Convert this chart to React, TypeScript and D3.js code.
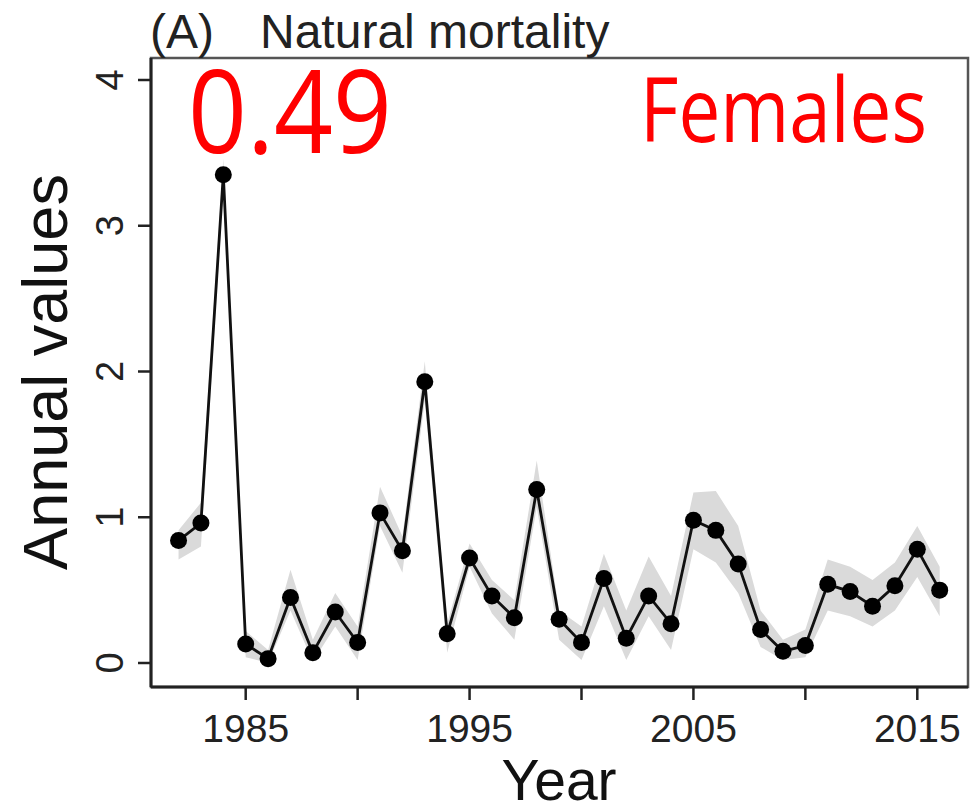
import { scaleLinear, line as d3Line, area as d3Area } from 'd3';

// annual estimates of natural mortality (females)
const years = [
  1982, 1983, 1984, 1985, 1986, 1987, 1988, 1989, 1990, 1991, 1992, 1993, 1994, 1995, 1996, 1997, 1998,
  1999, 2000, 2001, 2002, 2003, 2004, 2005, 2006, 2007, 2008, 2009, 2010, 2011, 2012, 2013, 2014, 2015, 2016,
];
const values = [
  0.84, 0.96, 3.35, 0.13, 0.03, 0.45, 0.07, 0.35, 0.14, 1.03, 0.77, 1.93, 0.2, 0.72, 0.46, 0.31, 1.19,
  0.3, 0.14, 0.58, 0.17, 0.46, 0.27, 0.98, 0.91, 0.68, 0.23, 0.08, 0.12, 0.54, 0.49, 0.39, 0.53, 0.78, 0.5,
];
const upper = [
  0.91, 1.1, 3.46, 0.22, 0.09, 0.64, 0.16, 0.48, 0.25, 1.21, 0.87, 2.07, 0.27, 0.82, 0.57, 0.43, 1.39,
  0.36, 0.25, 0.75, 0.36, 0.73, 0.46, 1.17, 1.18, 0.94, 0.36, 0.16, 0.23, 0.71, 0.66, 0.57, 0.69, 0.94, 0.66,
];
const lower = [
  0.71, 0.8, 3.25, 0.04, 0.0, 0.36, 0.01, 0.25, 0.02, 0.94, 0.62, 1.8, 0.07, 0.66, 0.34, 0.16, 1.07,
  0.16, 0.02, 0.39, 0.02, 0.32, 0.09, 0.78, 0.69, 0.48, 0.11, 0.02, 0.04, 0.36, 0.32, 0.25, 0.36, 0.59, 0.32,
];
const xTicks = [1985, 1990, 1995, 2000, 2005, 2010, 2015];
const xTickLabels = ['1985', '', '1995', '', '2005', '', '2015'];
const yTicks = [0, 1, 2, 3, 4];

const W = 970;
const H = 809;
const BOX = { left: 151, right: 968, top: 58, bottom: 687 };
const AXIS_FONT = '"Liberation Sans", Arial, sans-serif';
const RED_FONT = '"Open Sans", "Noto Sans", sans-serif';

const App = () => {
  const x = scaleLinear().domain([1985, 2015]).range([245.7, 917.3]);
  const y = scaleLinear().domain([0, 4]).range([663, 80]);

  const idx = years.map((_, i) => i);
  const band = d3Area<number>()
    .x((i) => x(years[i]))
    .y0((i) => y(lower[i]))
    .y1((i) => y(upper[i]));
  const path = d3Line<number>()
    .x((i) => x(years[i]))
    .y((i) => y(values[i]));

  return (
    <div style={{ position: 'absolute', left: 0, top: 0 }}>
      <svg width={W} height={H} style={{ display: 'block', background: '#fff' }}>
        {/* plot box */}
        <rect
          x={BOX.left}
          y={BOX.top}
          width={BOX.right - BOX.left}
          height={BOX.bottom - BOX.top}
          fill="none"
          stroke="#555"
          strokeWidth={2.5}
        />
        {/* confidence band */}
        <path d={band(idx) ?? ''} fill="#dadada" stroke="none" />
        {/* series */}
        <path d={path(idx) ?? ''} fill="none" stroke="#111" strokeWidth={2.8} />
        {idx.map((i) => (
          <circle key={years[i]} cx={x(years[i])} cy={y(values[i])} r={8.5} fill="#000" />
        ))}

        {/* axes lines */}
        <line x1={BOX.left} x2={BOX.left} y1={BOX.top} y2={BOX.bottom} stroke="#222" strokeWidth={3} />
        <line x1={BOX.left} x2={BOX.right} y1={BOX.bottom} y2={BOX.bottom} stroke="#222" strokeWidth={3} />

        {/* x axis */}
        {xTicks.map((t, i) => (
          <g key={t} transform={`translate(${x(t)},${BOX.bottom})`}>
            <line y1={0} y2={13} stroke="#222" strokeWidth={2.5} />
            <text
              y={55}
              textAnchor="middle"
              fontFamily={AXIS_FONT}
              fontSize={39}
              fill="#222"
            >
              {xTickLabels[i]}
            </text>
          </g>
        ))}
        <text x={559} y={800} textAnchor="middle" fontFamily={AXIS_FONT} fontSize={57} fill="#111">
          Year
        </text>

        {/* y axis */}
        {yTicks.map((t) => (
          <g key={t} transform={`translate(${BOX.left},${y(t)})`}>
            <line x1={0} x2={-13} stroke="#222" strokeWidth={2.5} />
            <text
              transform="translate(-28,0) rotate(-90)"
              textAnchor="middle"
              fontFamily={AXIS_FONT}
              fontSize={38}
              fill="#222"
            >
              {t}
            </text>
          </g>
        ))}
        <text
          transform="translate(67,372) rotate(-90)"
          textAnchor="middle"
          fontFamily={AXIS_FONT}
          fontSize={63}
          fill="#111"
        >
          Annual values
        </text>

        {/* title */}
        <text x={150} y={48} fontFamily={AXIS_FONT} fontSize={48} fill="#222">
          (A)
        </text>
        <text x={260} y={48} fontFamily={AXIS_FONT} fontSize={48} fill="#222">
          Natural mortality
        </text>

        {/* annotations */}
        <text
          x={188}
          y={153}
          fontFamily={RED_FONT}
          fontSize={116}
          fill="#ff0000"
          textLength={204}
          lengthAdjust="spacingAndGlyphs"
        >
          0.49
        </text>
        <text
          x={640}
          y={142}
          fontFamily={RED_FONT}
          fontSize={90}
          fill="#ff0000"
          textLength={287}
          lengthAdjust="spacingAndGlyphs"
        >
          Females
        </text>
      </svg>
    </div>
  );
};

export default App;
